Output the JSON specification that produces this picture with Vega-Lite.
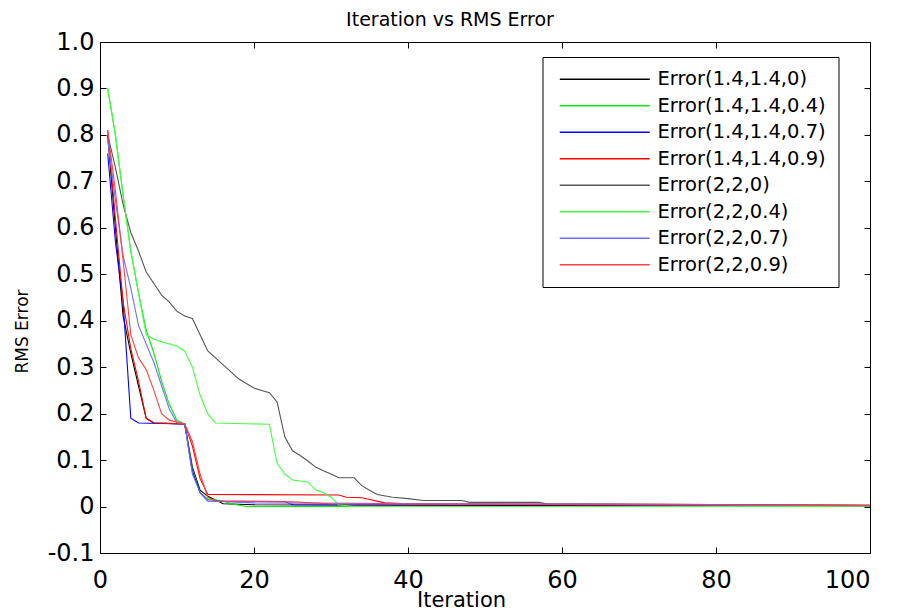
{
  "$schema": "https://vega.github.io/schema/vega-lite/v6.json",
  "width": 770,
  "height": 511,
  "autosize": {"type": "none"},
  "padding": {"left": 100, "top": 42, "right": 34, "bottom": 59},
  "background": "white",
  "title": {"text": "Iteration vs RMS Error", "fontSize": 19, "fontWeight": "normal", "font": "DejaVu Sans", "color": "black", "offset": 0, "dx": -35},
  "config": {
    "font": "DejaVu Sans",
    "view": {"stroke": "black", "strokeWidth": 1},
    "axis": {"grid": false, "domainColor": "black", "tickColor": "black", "labelColor": "black", "titleColor": "black", "titleFontWeight": "normal", "tickSize": -6}
  },
  "datasets": {
    "err": [
      {"s": "Error(1.4,1.4,0)", "it": 1, "v": 0.80}, {"s": "Error(1.4,1.4,0)", "it": 2, "v": 0.60}, {"s": "Error(1.4,1.4,0)", "it": 3, "v": 0.41}, {"s": "Error(1.4,1.4,0)", "it": 4, "v": 0.33}, {"s": "Error(1.4,1.4,0)", "it": 5, "v": 0.26}, {"s": "Error(1.4,1.4,0)", "it": 6, "v": 0.19}, {"s": "Error(1.4,1.4,0)", "it": 7, "v": 0.18}, {"s": "Error(1.4,1.4,0)", "it": 11, "v": 0.178}, {"s": "Error(1.4,1.4,0)", "it": 12, "v": 0.085}, {"s": "Error(1.4,1.4,0)", "it": 13, "v": 0.035}, {"s": "Error(1.4,1.4,0)", "it": 14, "v": 0.022}, {"s": "Error(1.4,1.4,0)", "it": 15, "v": 0.014}, {"s": "Error(1.4,1.4,0)", "it": 16, "v": 0.006}, {"s": "Error(1.4,1.4,0)", "it": 20, "v": 0.004}, {"s": "Error(1.4,1.4,0)", "it": 40, "v": 0.003}, {"s": "Error(1.4,1.4,0)", "it": 100, "v": 0.001},

      {"s": "Error(1.4,1.4,0.4)", "it": 1, "v": 0.90}, {"s": "Error(1.4,1.4,0.4)", "it": 2, "v": 0.80}, {"s": "Error(1.4,1.4,0.4)", "it": 3, "v": 0.67}, {"s": "Error(1.4,1.4,0.4)", "it": 4, "v": 0.55}, {"s": "Error(1.4,1.4,0.4)", "it": 5, "v": 0.46}, {"s": "Error(1.4,1.4,0.4)", "it": 6, "v": 0.38}, {"s": "Error(1.4,1.4,0.4)", "it": 7, "v": 0.33}, {"s": "Error(1.4,1.4,0.4)", "it": 8, "v": 0.27}, {"s": "Error(1.4,1.4,0.4)", "it": 9, "v": 0.22}, {"s": "Error(1.4,1.4,0.4)", "it": 10, "v": 0.185}, {"s": "Error(1.4,1.4,0.4)", "it": 11, "v": 0.178}, {"s": "Error(1.4,1.4,0.4)", "it": 12, "v": 0.08}, {"s": "Error(1.4,1.4,0.4)", "it": 13, "v": 0.03}, {"s": "Error(1.4,1.4,0.4)", "it": 14, "v": 0.016}, {"s": "Error(1.4,1.4,0.4)", "it": 15, "v": 0.014}, {"s": "Error(1.4,1.4,0.4)", "it": 16, "v": 0.012}, {"s": "Error(1.4,1.4,0.4)", "it": 17, "v": 0.006}, {"s": "Error(1.4,1.4,0.4)", "it": 19, "v": 0.0}, {"s": "Error(1.4,1.4,0.4)", "it": 100, "v": 0.0},

      {"s": "Error(1.4,1.4,0.7)", "it": 1, "v": 0.76}, {"s": "Error(1.4,1.4,0.7)", "it": 2, "v": 0.57}, {"s": "Error(1.4,1.4,0.7)", "it": 3, "v": 0.44}, {"s": "Error(1.4,1.4,0.7)", "it": 4, "v": 0.19}, {"s": "Error(1.4,1.4,0.7)", "it": 5, "v": 0.18}, {"s": "Error(1.4,1.4,0.7)", "it": 11, "v": 0.178}, {"s": "Error(1.4,1.4,0.7)", "it": 12, "v": 0.075}, {"s": "Error(1.4,1.4,0.7)", "it": 13, "v": 0.03}, {"s": "Error(1.4,1.4,0.7)", "it": 14, "v": 0.012}, {"s": "Error(1.4,1.4,0.7)", "it": 24, "v": 0.011}, {"s": "Error(1.4,1.4,0.7)", "it": 25, "v": 0.004}, {"s": "Error(1.4,1.4,0.7)", "it": 100, "v": 0.002},

      {"s": "Error(1.4,1.4,0.9)", "it": 1, "v": 0.81}, {"s": "Error(1.4,1.4,0.9)", "it": 2, "v": 0.62}, {"s": "Error(1.4,1.4,0.9)", "it": 3, "v": 0.44}, {"s": "Error(1.4,1.4,0.9)", "it": 4, "v": 0.34}, {"s": "Error(1.4,1.4,0.9)", "it": 5, "v": 0.27}, {"s": "Error(1.4,1.4,0.9)", "it": 6, "v": 0.19}, {"s": "Error(1.4,1.4,0.9)", "it": 7, "v": 0.18}, {"s": "Error(1.4,1.4,0.9)", "it": 11, "v": 0.178}, {"s": "Error(1.4,1.4,0.9)", "it": 12, "v": 0.13}, {"s": "Error(1.4,1.4,0.9)", "it": 13, "v": 0.06}, {"s": "Error(1.4,1.4,0.9)", "it": 14, "v": 0.026}, {"s": "Error(1.4,1.4,0.9)", "it": 31, "v": 0.025}, {"s": "Error(1.4,1.4,0.9)", "it": 32, "v": 0.02}, {"s": "Error(1.4,1.4,0.9)", "it": 34, "v": 0.019}, {"s": "Error(1.4,1.4,0.9)", "it": 37, "v": 0.008}, {"s": "Error(1.4,1.4,0.9)", "it": 40, "v": 0.006}, {"s": "Error(1.4,1.4,0.9)", "it": 73, "v": 0.005}, {"s": "Error(1.4,1.4,0.9)", "it": 100, "v": 0.002},

      {"s": "Error(2,2,0)", "it": 1, "v": 0.80}, {"s": "Error(2,2,0)", "it": 2, "v": 0.73}, {"s": "Error(2,2,0)", "it": 3, "v": 0.65}, {"s": "Error(2,2,0)", "it": 4, "v": 0.59}, {"s": "Error(2,2,0)", "it": 5, "v": 0.55}, {"s": "Error(2,2,0)", "it": 6, "v": 0.505}, {"s": "Error(2,2,0)", "it": 7, "v": 0.48}, {"s": "Error(2,2,0)", "it": 8, "v": 0.455}, {"s": "Error(2,2,0)", "it": 9, "v": 0.44}, {"s": "Error(2,2,0)", "it": 10, "v": 0.42}, {"s": "Error(2,2,0)", "it": 11, "v": 0.41}, {"s": "Error(2,2,0)", "it": 12, "v": 0.405}, {"s": "Error(2,2,0)", "it": 13, "v": 0.37}, {"s": "Error(2,2,0)", "it": 14, "v": 0.335}, {"s": "Error(2,2,0)", "it": 15, "v": 0.32}, {"s": "Error(2,2,0)", "it": 16, "v": 0.305}, {"s": "Error(2,2,0)", "it": 17, "v": 0.29}, {"s": "Error(2,2,0)", "it": 18, "v": 0.275}, {"s": "Error(2,2,0)", "it": 19, "v": 0.265}, {"s": "Error(2,2,0)", "it": 20, "v": 0.255}, {"s": "Error(2,2,0)", "it": 21, "v": 0.25}, {"s": "Error(2,2,0)", "it": 22, "v": 0.245}, {"s": "Error(2,2,0)", "it": 23, "v": 0.225}, {"s": "Error(2,2,0)", "it": 24, "v": 0.15}, {"s": "Error(2,2,0)", "it": 25, "v": 0.12}, {"s": "Error(2,2,0)", "it": 26, "v": 0.11}, {"s": "Error(2,2,0)", "it": 27, "v": 0.098}, {"s": "Error(2,2,0)", "it": 28, "v": 0.085}, {"s": "Error(2,2,0)", "it": 29, "v": 0.077}, {"s": "Error(2,2,0)", "it": 30, "v": 0.07}, {"s": "Error(2,2,0)", "it": 31, "v": 0.062}, {"s": "Error(2,2,0)", "it": 33, "v": 0.062}, {"s": "Error(2,2,0)", "it": 34, "v": 0.045}, {"s": "Error(2,2,0)", "it": 35, "v": 0.035}, {"s": "Error(2,2,0)", "it": 36, "v": 0.026}, {"s": "Error(2,2,0)", "it": 38, "v": 0.02}, {"s": "Error(2,2,0)", "it": 40, "v": 0.017}, {"s": "Error(2,2,0)", "it": 42, "v": 0.013}, {"s": "Error(2,2,0)", "it": 47, "v": 0.013}, {"s": "Error(2,2,0)", "it": 48, "v": 0.009}, {"s": "Error(2,2,0)", "it": 57, "v": 0.009}, {"s": "Error(2,2,0)", "it": 58, "v": 0.006}, {"s": "Error(2,2,0)", "it": 100, "v": 0.003},

      {"s": "Error(2,2,0.4)", "it": 1, "v": 0.90}, {"s": "Error(2,2,0.4)", "it": 2, "v": 0.80}, {"s": "Error(2,2,0.4)", "it": 3, "v": 0.67}, {"s": "Error(2,2,0.4)", "it": 4, "v": 0.55}, {"s": "Error(2,2,0.4)", "it": 5, "v": 0.46}, {"s": "Error(2,2,0.4)", "it": 6, "v": 0.37}, {"s": "Error(2,2,0.4)", "it": 7, "v": 0.36}, {"s": "Error(2,2,0.4)", "it": 8, "v": 0.355}, {"s": "Error(2,2,0.4)", "it": 9, "v": 0.35}, {"s": "Error(2,2,0.4)", "it": 10, "v": 0.345}, {"s": "Error(2,2,0.4)", "it": 11, "v": 0.335}, {"s": "Error(2,2,0.4)", "it": 12, "v": 0.30}, {"s": "Error(2,2,0.4)", "it": 13, "v": 0.24}, {"s": "Error(2,2,0.4)", "it": 14, "v": 0.20}, {"s": "Error(2,2,0.4)", "it": 15, "v": 0.18}, {"s": "Error(2,2,0.4)", "it": 22, "v": 0.177}, {"s": "Error(2,2,0.4)", "it": 23, "v": 0.093}, {"s": "Error(2,2,0.4)", "it": 24, "v": 0.07}, {"s": "Error(2,2,0.4)", "it": 25, "v": 0.057}, {"s": "Error(2,2,0.4)", "it": 27, "v": 0.053}, {"s": "Error(2,2,0.4)", "it": 28, "v": 0.036}, {"s": "Error(2,2,0.4)", "it": 29, "v": 0.03}, {"s": "Error(2,2,0.4)", "it": 30, "v": 0.02}, {"s": "Error(2,2,0.4)", "it": 31, "v": 0.004}, {"s": "Error(2,2,0.4)", "it": 33, "v": 0.0}, {"s": "Error(2,2,0.4)", "it": 100, "v": 0.0},

      {"s": "Error(2,2,0.7)", "it": 1, "v": 0.79}, {"s": "Error(2,2,0.7)", "it": 2, "v": 0.66}, {"s": "Error(2,2,0.7)", "it": 3, "v": 0.54}, {"s": "Error(2,2,0.7)", "it": 4, "v": 0.47}, {"s": "Error(2,2,0.7)", "it": 5, "v": 0.39}, {"s": "Error(2,2,0.7)", "it": 6, "v": 0.35}, {"s": "Error(2,2,0.7)", "it": 7, "v": 0.31}, {"s": "Error(2,2,0.7)", "it": 8, "v": 0.26}, {"s": "Error(2,2,0.7)", "it": 9, "v": 0.21}, {"s": "Error(2,2,0.7)", "it": 10, "v": 0.18}, {"s": "Error(2,2,0.7)", "it": 11, "v": 0.178}, {"s": "Error(2,2,0.7)", "it": 12, "v": 0.07}, {"s": "Error(2,2,0.7)", "it": 13, "v": 0.03}, {"s": "Error(2,2,0.7)", "it": 14, "v": 0.012}, {"s": "Error(2,2,0.7)", "it": 20, "v": 0.008}, {"s": "Error(2,2,0.7)", "it": 100, "v": 0.002},

      {"s": "Error(2,2,0.9)", "it": 1, "v": 0.81}, {"s": "Error(2,2,0.9)", "it": 2, "v": 0.68}, {"s": "Error(2,2,0.9)", "it": 3, "v": 0.53}, {"s": "Error(2,2,0.9)", "it": 4, "v": 0.37}, {"s": "Error(2,2,0.9)", "it": 5, "v": 0.32}, {"s": "Error(2,2,0.9)", "it": 6, "v": 0.295}, {"s": "Error(2,2,0.9)", "it": 7, "v": 0.25}, {"s": "Error(2,2,0.9)", "it": 8, "v": 0.20}, {"s": "Error(2,2,0.9)", "it": 9, "v": 0.186}, {"s": "Error(2,2,0.9)", "it": 11, "v": 0.178}, {"s": "Error(2,2,0.9)", "it": 12, "v": 0.14}, {"s": "Error(2,2,0.9)", "it": 13, "v": 0.07}, {"s": "Error(2,2,0.9)", "it": 14, "v": 0.02}, {"s": "Error(2,2,0.9)", "it": 15, "v": 0.012}, {"s": "Error(2,2,0.9)", "it": 25, "v": 0.01}, {"s": "Error(2,2,0.9)", "it": 30, "v": 0.006}, {"s": "Error(2,2,0.9)", "it": 100, "v": 0.002}
    ]
  },
  "data": {"name": "err"},
  "resolve": {"axis": {"x": "independent", "y": "independent"}},
  "layer": [
    {
      "mark": {"type": "line", "strokeWidth": 1.1, "clip": true},
      "encoding": {
        "x": {"field": "it", "type": "quantitative", "scale": {"domain": [0, 100], "nice": false},
          "axis": {"orient": "bottom", "values": [0, 20, 40, 60, 80, 100], "labelFlush": false, "labelAlign": {"expr": "datum.value == 100 ? 'right' : 'center'"}, "labelFontSize": 24, "labelPadding": 21, "title": "Iteration", "titleFontSize": 21, "titleX": 361, "titleY": 47, "titleBaseline": "middle", "titleAlign": "center"}},
        "y": {"field": "v", "type": "quantitative", "scale": {"domain": [-0.1, 1.0], "nice": false, "zero": false},
          "axis": {"orient": "left", "values": [-0.1, 0, 0.1, 0.2, 0.3, 0.4, 0.5, 0.6, 0.7, 0.8, 0.9, 1.0], "labelExpr": "datum.value == 0 ? '0' : (datum.value < 0 ? '-' + format(-datum.value, '.1f') : format(datum.value, '.1f'))", "labelFontSize": 24, "labelPadding": 12, "title": "RMS Error", "titleFontSize": 17, "titleX": -78, "titleY": 289, "titleAngle": -90, "titleBaseline": "middle", "titleAlign": "center"}},
        "color": {"field": "s", "type": "nominal", "sort": null,
          "scale": {"domain": ["Error(1.4,1.4,0)", "Error(1.4,1.4,0.4)", "Error(1.4,1.4,0.7)", "Error(1.4,1.4,0.9)", "Error(2,2,0)", "Error(2,2,0.4)", "Error(2,2,0.7)", "Error(2,2,0.9)"],
                    "range": ["#000000", "#00ee00", "#0000ff", "#ff0000", "#555555", "#44ff44", "#6f6fff", "#ff4040"]},
          "legend": {"orient": "none", "legendX": 442.5, "legendY": 15, "title": null, "symbolType": "M-1,0H17", "symbolSize": 100, "symbolStrokeWidth": 1.3, "symbolFillColor": "transparent", "labelFontSize": 19.5, "labelColor": "black", "labelOffset": 83, "rowPadding": 5.5, "padding": 12.5, "strokeColor": "black", "fillColor": "white", "labelLimit": 300}}
      }
    },
    {
      "mark": {"type": "line", "opacity": 0},
      "encoding": {
        "x": {"field": "it", "type": "quantitative", "axis": {"orient": "top", "values": [0, 20, 40, 60, 80, 100], "labels": false, "title": null}},
        "y": {"field": "v", "type": "quantitative", "axis": {"orient": "right", "values": [-0.1, 0, 0.1, 0.2, 0.3, 0.4, 0.5, 0.6, 0.7, 0.8, 0.9, 1.0], "labels": false, "title": null}},
        "detail": {"field": "s"}
      }
    }
  ]
}
